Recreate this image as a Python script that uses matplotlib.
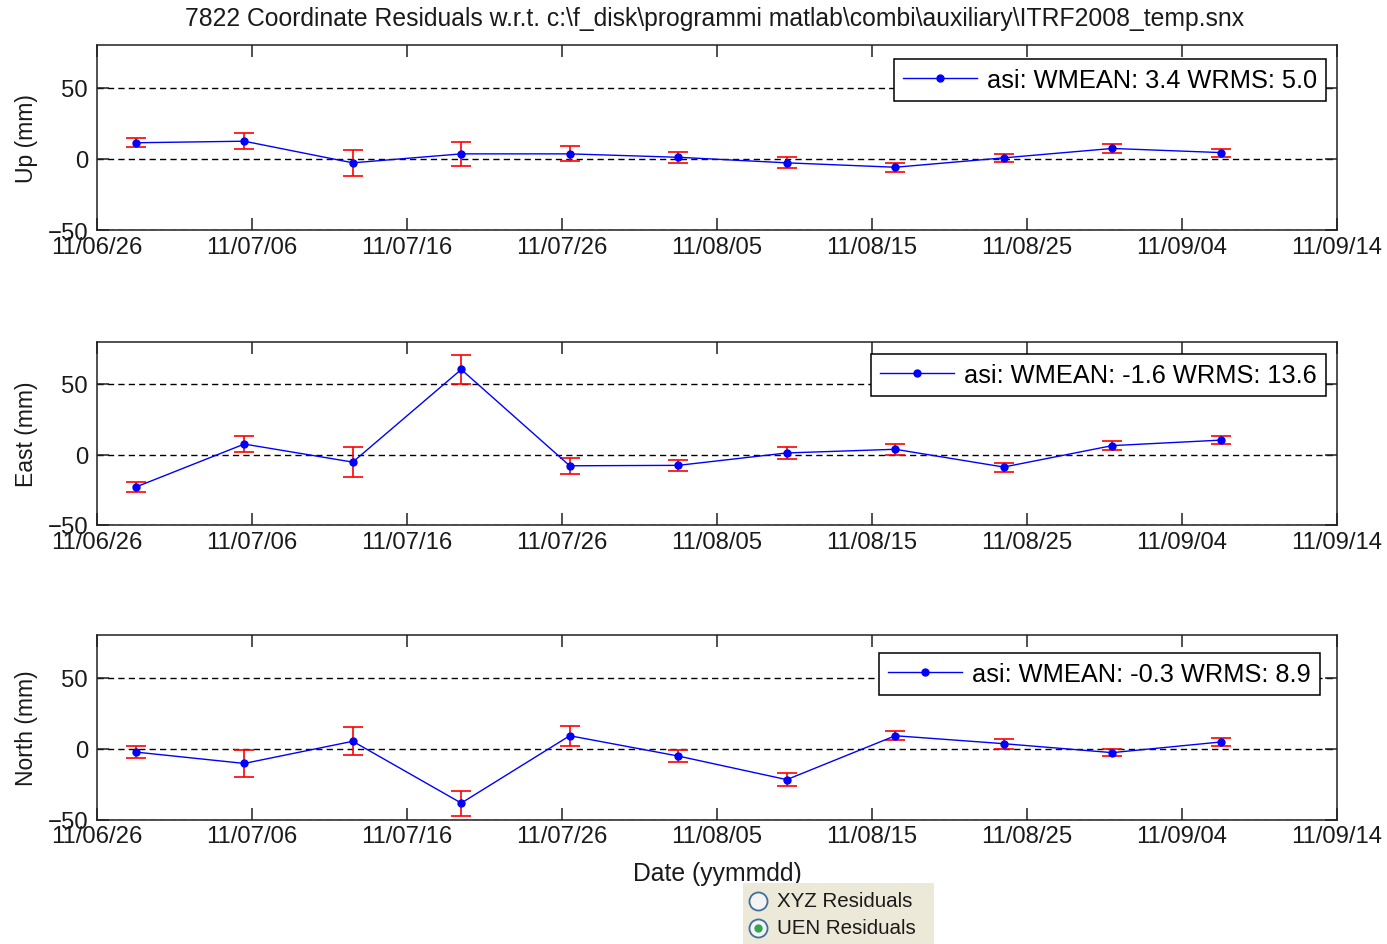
import datetime as dt
import matplotlib
matplotlib.use("Agg")
import matplotlib.pyplot as plt

plt.rcParams['font.family'] = ['Liberation Sans', 'DejaVu Sans']

# ---------------- data ----------------
point_dates = ["2011-06-28 12:00", "2011-07-05 12:00", "2011-07-12 12:00",
               "2011-07-19 12:00", "2011-07-26 12:00", "2011-08-02 12:00",
               "2011-08-09 12:00", "2011-08-16 12:00", "2011-08-23 12:00",
               "2011-08-30 12:00", "2011-09-06 12:00"]

up = [11.3, 12.4, -2.8, 3.5, 3.5, 1.1, -2.8, -5.9, 0.7, 7.3, 4.4]
up_err = [3.3, 5.6, 9.0, 8.2, 5.2, 4.0, 3.9, 3.0, 2.7, 2.9, 2.8]

east = [-23.1, 7.4, -5.4, 60.3, -8.0, -7.7, 1.1, 3.7, -8.9, 6.3, 10.2]
east_err = [3.3, 5.8, 10.7, 10.0, 5.8, 4.0, 4.5, 4.0, 3.2, 3.3, 2.6]

north = [-2.4, -10.4, 5.2, -38.3, 9.1, -5.2, -21.8, 9.1, 3.5, -2.8, 4.7]
north_err = [4.5, 9.6, 10.0, 8.8, 7.0, 4.0, 4.5, 3.2, 3.4, 2.7, 2.8]

x_tick_labels = ["11/06/26", "11/07/06", "11/07/16", "11/07/26", "11/08/05",
                 "11/08/15", "11/08/25", "11/09/04", "11/09/14"]
y_ticks = [-50, 0, 50]
y_limits = (-50, 80)

panel_labels = ["Up (mm)", "East (mm)", "North (mm)"]
legend_labels = ["asi: WMEAN: 3.4 WRMS: 5.0",
                 "asi: WMEAN: -1.6 WRMS: 13.6",
                 "asi: WMEAN: -0.3 WRMS: 8.9"]
title = r"7822 Coordinate Residuals w.r.t. c:\f_disk\programmi matlab\combi\auxiliary\ITRF2008_temp.snx"
x_label = "Date (yymmdd)"
radio_labels = ["XYZ Residuals", "UEN Residuals"]

# ---------------- figure ----------------
W, H = 1387, 945
fig = plt.figure(figsize=(W / 100, H / 100), dpi=100)

xd = [dt.datetime.strptime(s, "%Y-%m-%d %H:%M") for s in point_dates]
xticks = [dt.datetime.strptime(s, "%y/%m/%d") for s in x_tick_labels]

# axes boxes in pixels: (left, top, right, bottom)
boxes = [(97, 46, 1337, 231), (97, 342.7, 1337, 526), (97, 636, 1337, 820.7)]
series = [(up, up_err), (east, east_err), (north, north_err)]
legend_anchor = [(0.991, 0.924), (0.991, 0.933), (0.986, 0.903)]

spine_col = '#202020'
txt_col = '#1a1a1a'
axes = []
for i, ((l, t, r, b), (vals, errs)) in enumerate(zip(boxes, series)):
    ax = fig.add_axes([l / W, 1 - b / H, (r - l) / W, (b - t) / H])
    axes.append(ax)
    ax.errorbar(xd, vals, yerr=errs, fmt='none', ecolor='#ff0000',
                elinewidth=1.2, capsize=7.5, capthick=1.2, zorder=3)
    ax.plot(xd, vals, '.-', color='#0000ff', lw=1.0, markersize=10,
            label=legend_labels[i], zorder=4)
    ax.set_xlim(xticks[0], xticks[-1])
    ax.set_ylim(*y_limits)
    ax.set_yticks(y_ticks)
    ax.set_xticks(xticks)
    ax.set_xticklabels(x_tick_labels)
    ax.yaxis.grid(True, color='k', lw=1.0, linestyle=(0, (4.5, 3)))
    ax.set_axisbelow(True)
    ax.tick_params(axis='both', direction='in', length=8.6, width=1.1,
                   top=True, right=True, labelsize=17.2, colors=spine_col,
                   labelcolor=txt_col)
    ax.tick_params(axis='x', pad=4)
    ax.tick_params(axis='y', pad=6.5)
    for sp in ax.spines.values():
        sp.set_color(spine_col)
        sp.set_linewidth(1.1)
    ax.set_ylabel(panel_labels[i], fontsize=16.5, color=txt_col)
    ax.yaxis.set_label_coords(-0.0476, 0.5)
    leg = ax.legend(loc='upper right', bbox_to_anchor=legend_anchor[i],
                    borderaxespad=0, fontsize=18.3, numpoints=1,
                    handlelength=2.9, handletextpad=0.4, fancybox=False,
                    framealpha=1, edgecolor='k', borderpad=0.35)
    leg.get_frame().set_linewidth(1.1)

axes[2].set_xlabel(x_label, fontsize=17.8, color=txt_col)
axes[2].xaxis.set_label_coords(0.5, -0.225)

fig.text(715 / W, 1 - 19 / H, title, ha='center', va='center',
         fontsize=17.8, color=txt_col)

# radio-button panel (UI element)
pax = fig.add_axes([743 / W, 0, 191 / W, 61 / H])
pax.set_facecolor('#ece9d8')
pax.set_xlim(0, 191)
pax.set_ylim(61, 0)
for sp in pax.spines.values():
    sp.set_visible(False)
pax.set_xticks([])
pax.set_yticks([])
for j, lab in enumerate(radio_labels):
    yy = 18 + j * 27
    pax.plot([15], [yy], 'o', markersize=13, markerfacecolor='#f4f4f4',
             markeredgecolor='#3f6f9a', markeredgewidth=1.3)
    if j == 1:
        pax.plot([15], [yy], 'o', markersize=5, color='#2fa84f')
    pax.text(34, yy, lab, fontsize=14.8, va='center', ha='left', color=txt_col)

fig.savefig("out.png", dpi=100)
